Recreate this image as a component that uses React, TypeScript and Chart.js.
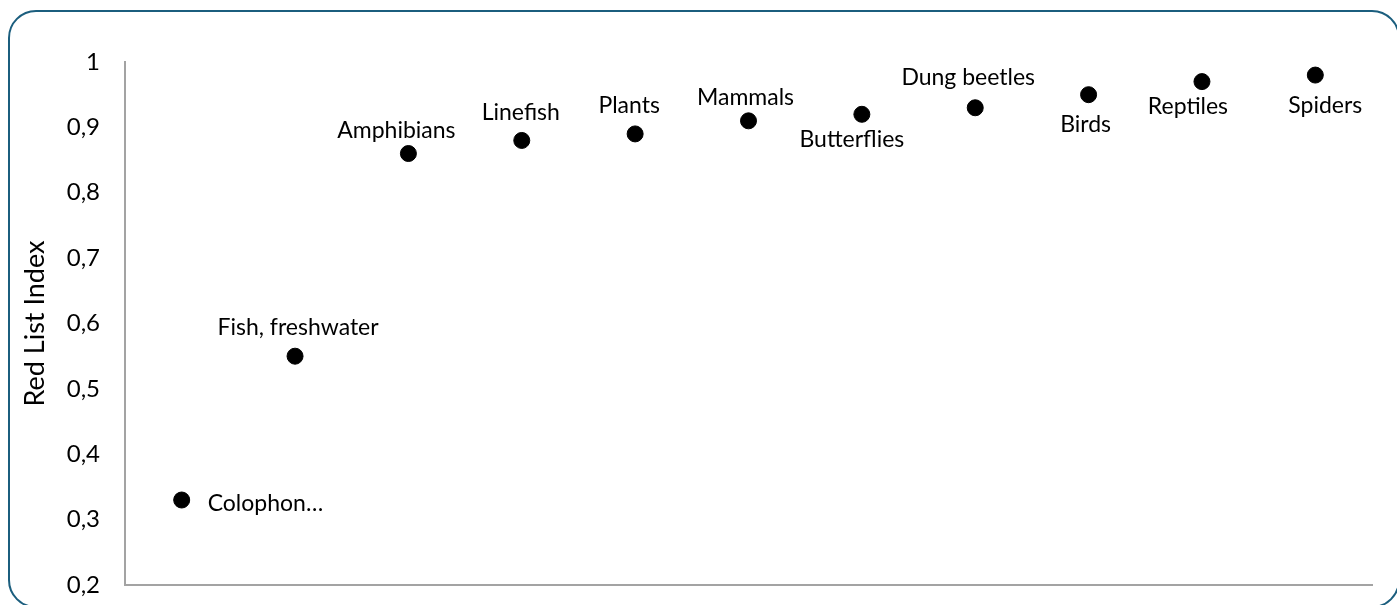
import React, { useEffect, useRef } from "react";
import { Chart, registerables } from "chart.js";

Chart.register(...registerables);

const categories = [
  "Colophon…",
  "Fish, freshwater",
  "Amphibians",
  "Linefish",
  "Plants",
  "Mammals",
  "Butterflies",
  "Dung beetles",
  "Birds",
  "Reptiles",
  "Spiders",
];
const redListIndex = [0.33, 0.55, 0.86, 0.88, 0.89, 0.91, 0.92, 0.93, 0.95, 0.97, 0.98];
const yTicks = [0.2, 0.3, 0.4, 0.5, 0.6, 0.7, 0.8, 0.9, 1];

// label placement relative to each point (styling only)
const labelLayout = [
  { align: "left", dx: 26, dy: 4 },
  { align: "center", dx: 3, dy: -29 },
  { align: "center", dx: -12, dy: -23 },
  { align: "center", dx: -1, dy: -28 },
  { align: "center", dx: -6, dy: -28 },
  { align: "center", dx: -3, dy: -23 },
  { align: "center", dx: -10, dy: 25 },
  { align: "center", dx: -7, dy: -30 },
  { align: "center", dx: -3, dy: 30 },
  { align: "center", dx: -14, dy: 25 },
  { align: "center", dx: 10, dy: 31 },
];

const FONT = "Lato, 'Open Sans', sans-serif";

const pointLabels = {
  id: "pointLabels",
  afterDatasetsDraw(chart: any) {
    const ctx = chart.ctx;
    const meta = chart.getDatasetMeta(0);
    ctx.save();
    ctx.font = `23px ${FONT}`;
    ctx.fillStyle = "#000";
    ctx.textBaseline = "middle";
    meta.data.forEach((pt: any, i: number) => {
      const l = labelLayout[i];
      ctx.textAlign = l.align;
      ctx.fillText(categories[i], pt.x + l.dx, pt.y + l.dy);
    });
    ctx.restore();
  },
};

export default function App() {
  const ref = useRef<HTMLCanvasElement>(null);
  useEffect(() => {
    if (!ref.current) return;
    const chart = new Chart(ref.current, {
      type: "line",
      data: {
        labels: categories,
        datasets: [
          {
            data: redListIndex,
            showLine: false,
            pointRadius: 8,
            pointHoverRadius: 8,
            pointBackgroundColor: "#000",
            pointBorderColor: "#000",
            borderColor: "#000",
          },
        ],
      },
      options: {
        responsive: false,
        animation: false,
        layout: { padding: { left: 15, top: 62, right: 25, bottom: 20 } },
        plugins: { legend: { display: false }, tooltip: { enabled: false } },
        scales: {
          x: {
            type: "category",
            offset: true,
            grid: { display: false, drawTicks: false },
            border: { display: true, color: "#a3a3a3", width: 2 },
            ticks: { display: false },
            afterFit: (s: any) => {
              s.height = 0;
            },
          },
          y: {
            min: 0.2,
            max: 1,
            afterBuildTicks: (s: any) => {
              s.ticks = yTicks.map((v) => ({ value: v }));
            },
            grid: { display: false, drawTicks: true, tickLength: 25 },
            border: { display: true, color: "#a3a3a3", width: 2 },
            ticks: {
              padding: 0,
              color: "#000",
              font: { family: FONT, size: 24 },
              callback: (v: any) => (Number(v) === 1 ? "1" : Number(v).toFixed(1).replace(".", ",")),
            },
            title: {
              display: true,
              text: "Red List Index",
              color: "#000",
              font: { family: FONT, size: 27 },
            },
            afterFit: (s: any) => {
              s.width = 110;
            },
          },
        },
      },
      plugins: [pointLabels],
    });
    return () => chart.destroy();
  }, []);

  return (
    <div>
      <div
        style={{
          position: "fixed",
          left: 8,
          top: 10,
          width: 1392,
          height: 598,
          boxSizing: "border-box",
          border: "2.5px solid #1b5e7e",
          borderRadius: 28,
          background: "#fff",
        }}
      />
      <canvas
        ref={ref}
        width={1397}
        height={605}
        style={{ position: "fixed", left: 0, top: 0, width: 1397, height: 605, display: "block" }}
      />
    </div>
  );
}
